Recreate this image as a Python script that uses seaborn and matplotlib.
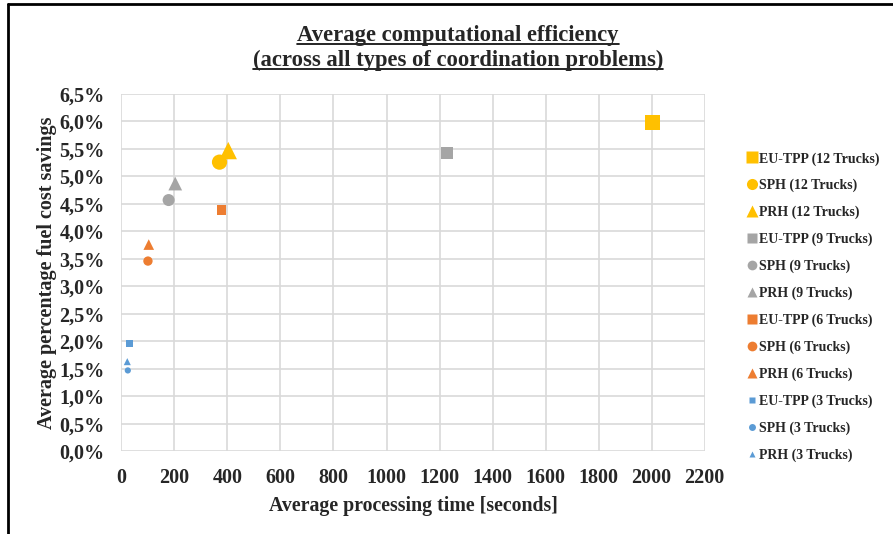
import matplotlib
matplotlib.use('Agg')
import matplotlib.pyplot as plt
from matplotlib.lines import Line2D
import seaborn as sns
import pandas as pd
import numpy as np

# data
labels = ['EU-TPP (12 Trucks)', 'SPH (12 Trucks)', 'PRH (12 Trucks)',
          'EU-TPP (9 Trucks)', 'SPH (9 Trucks)', 'PRH (9 Trucks)',
          'EU-TPP (6 Trucks)', 'SPH (6 Trucks)', 'PRH (6 Trucks)',
          'EU-TPP (3 Trucks)', 'SPH (3 Trucks)', 'PRH (3 Trucks)']
proc_time = [2005, 370, 403, 1228, 178, 203, 377, 100, 103, 30, 24, 22]
savings = [5.98, 5.26, 5.47, 5.43, 4.57, 4.87, 4.39, 3.46, 3.76, 1.96, 1.47, 1.63]

truck_colors = {12: '#FFC000', 9: '#A5A5A5', 6: '#ED7D31', 3: '#5B9BD5'}
method_markers = {'EU-TPP': 's', 'SPH': 'o', 'PRH': '^'}
truck_sizes = {12: 120, 9: 75, 6: 45, 3: 20}

data = pd.DataFrame({'label': labels, 'time': proc_time, 'saving': savings})
data['method'] = [l.split(' ')[0] for l in labels]
data['trucks'] = [int(l.split('(')[1].split(' ')[0]) for l in labels]

sns.set_style('white')
plt.rcParams['font.family'] = ['Liberation Serif', 'DejaVu Serif']
plt.rcParams['font.weight'] = 'bold'

f = plt.figure(figsize=(8.93, 5.34), dpi=100)
ax = f.add_axes([0.136, 0.155, 0.653, 0.669])

for _, row in data.iterrows():
    sns.scatterplot(x=[row['time']], y=[row['saving']], ax=ax,
                    color=truck_colors[row['trucks']],
                    marker=method_markers[row['method']],
                    s=truck_sizes[row['trucks']] * (1.3 if row['method'] == 'PRH' else 1.0),
                    edgecolor='none', label=row['label'], zorder=3)

ax.set_xlim(0, 2200)
ax.set_ylim(0, 6.5)
ax.set_xticks(np.arange(0, 2201, 200))
ax.set_yticks(np.arange(0, 6.51, 0.5))
ax.set_yticklabels([('%.1f%%' % v).replace('.', ',') for v in np.arange(0, 6.51, 0.5)])
ax.grid(True, color='#D9D9D9', linewidth=1.2)
for s in ax.spines.values():
    s.set_visible(False)
ax.tick_params(axis='x', labelsize=14.5, length=0, pad=12)
ax.tick_params(axis='y', labelsize=14.5, length=0, pad=12)
for t in ax.get_xticklabels() + ax.get_yticklabels():
    t.set_fontweight('bold')

ax.set_xlabel('Average processing time [seconds]', fontsize=14.3, fontweight='bold', labelpad=6)
ax.set_ylabel('Average percentage fuel cost savings', fontsize=14.5, fontweight='bold', labelpad=2)

# legend with sized markers
handles = []
for _, row in data.iterrows():
    ms = {12: 8, 9: 7, 6: 7, 3: 5}[row['trucks']]
    handles.append(Line2D([], [], linestyle='none', marker=method_markers[row['method']],
                          color=truck_colors[row['trucks']], markersize=ms,
                          markeredgecolor='none', label=row['label']))
leg = ax.legend(handles=handles, loc='center left', bbox_to_anchor=(0.831, 0.425),
                bbox_transform=f.transFigure, frameon=False,
                prop={'weight': 'bold', 'size': 10}, handlelength=0.6,
                handletextpad=0.2, labelspacing=0.97, borderaxespad=0)

# title with underline
t1 = f.text(0.513, 0.933, 'Average computational efficiency', ha='center', va='center',
            fontsize=16.3, fontweight='bold')
t2 = f.text(0.513, 0.886, '(across all types of coordination problems)', ha='center',
            va='center', fontsize=16.3, fontweight='bold')
f.canvas.draw()
r = f.canvas.get_renderer()
inv = f.transFigure.inverted()
for t in (t1, t2):
    bb = t.get_window_extent(r)
    (x0, y0), (x1, y1) = inv.transform([[bb.x0, bb.y0], [bb.x1, bb.y1]])
    f.add_artist(Line2D([x0, x1], [y0 + 0.004, y0 + 0.004], color='black',
                        linewidth=1.2, transform=f.transFigure))

# frame edges seen in the screenshot
f.add_artist(Line2D([0.009, 1], [0.993, 0.993], color='black', linewidth=2, transform=f.transFigure))
f.add_artist(Line2D([0.009, 0.009], [0, 0.993], color='black', linewidth=2, transform=f.transFigure))

f.savefig('out.png', dpi=100)
